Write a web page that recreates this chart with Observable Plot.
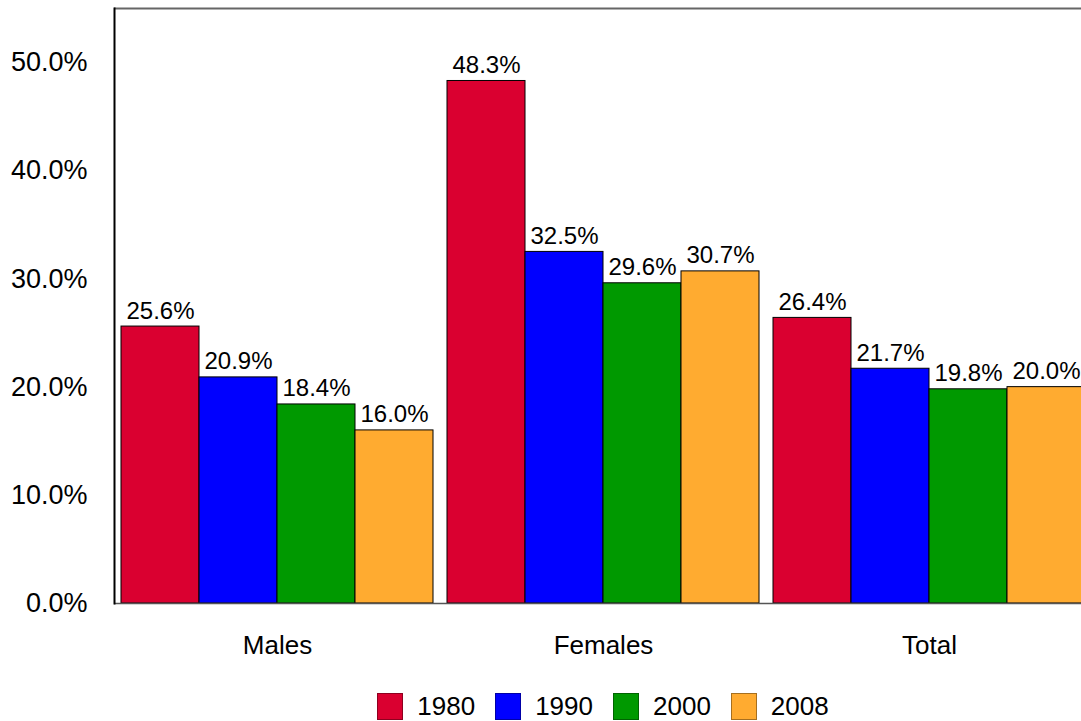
<!DOCTYPE html>
<html>
<head>
<meta charset="utf-8">
<script src="https://cdn.jsdelivr.net/npm/d3@7"></script>
<script src="https://cdn.jsdelivr.net/npm/@observablehq/plot@0.6"></script>
<style>
html, body { margin: 0; padding: 0; overflow: hidden; background: #fff; }
#wrap { position: relative; width: 1081px; height: 721px; overflow: hidden; font-family: "Liberation Sans", Arial, sans-serif; color: #000; }
#chart { position: absolute; left: 0; top: 0; width: 1092px; }
#chart svg { max-width: none !important; width: 1092px !important; height: 690px !important; }
#legend { position: absolute; top: 693px; left: 0; width: 1206px; display: flex; justify-content: center; align-items: center; }
.item { display: flex; align-items: center; margin: 0 10px; }
.sw { width: 26px; height: 27px; box-sizing: border-box; border: 1px solid #000; margin-right: 14px; }
.lab { font-size: 26px; line-height: 27px; }
</style>
</head>
<body>
<div id="wrap"><div id="chart"></div><div id="legend"></div></div>
<script>
const groups = ["Males", "Females", "Total"];
const years = ["1980", "1990", "2000", "2008"];
const colors = ["#DA0030", "#0000FF", "#009900", "#FFAB30"];
const males = [25.6, 20.9, 18.4, 16.0];
const females = [48.3, 32.5, 29.6, 30.7];
const total = [26.4, 21.7, 19.8, 20.0];
const yTicks = [0, 10, 20, 30, 40, 50];

const series = {Males: males, Females: females, Total: total};
const data = groups.flatMap(g => years.map((y, i) => ({group: g, year: y, value: series[g][i]})));
const fmt = d => d.toFixed(1) + "%";

const chart = Plot.plot({
  width: 1092,
  height: 690,
  marginLeft: 113,
  marginRight: 0,
  marginTop: 8,
  marginBottom: 87,
  style: {fontFamily: '"Liberation Sans", Arial, sans-serif', color: "#000", background: "transparent", overflow: "visible", maxWidth: "none"},
  fx: {domain: groups, paddingInner: 0, paddingOuter: 0, label: null, axis: null},
  x: {domain: years, paddingInner: 0, paddingOuter: 0.07, axis: null},
  y: {domain: [0, 55], axis: null},
  color: {domain: years, range: colors},
  marks: [
    Plot.barY(data, {fx: "group", x: "year", y: "value", fill: "year", stroke: "#000", strokeWidth: 1}),
    Plot.ruleY([0], {stroke: "#555", strokeWidth: 1.5}),
    Plot.ruleY([55], {stroke: "#666", strokeWidth: 2}),
    Plot.frame({anchor: "left", facetAnchor: "left", stroke: "#000", strokeWidth: 2}),
    Plot.axisY({ticks: yTicks, tickFormat: fmt, tickSize: 0, tickPadding: 27, fontSize: 27, label: null}),
    Plot.axisFx({anchor: "bottom", tickSize: 0, tickPadding: 32, fontSize: 26, label: null}),
    Plot.text(data, {fx: "group", x: "year", y: "value", text: d => fmt(d.value), dy: -8, lineAnchor: "bottom", fontSize: 24, fill: "#000"})
  ]
});
document.getElementById("chart").appendChild(chart);

const legend = document.getElementById("legend");
years.forEach((y, i) => {
  const item = document.createElement("div");
  item.className = "item";
  const sw = document.createElement("div");
  sw.className = "sw";
  sw.style.background = chart.scale("color").apply(y);
  sw.style.borderColor = d3.color(colors[i]).darker(1.2).formatHex();
  const lab = document.createElement("span");
  lab.className = "lab";
  lab.textContent = y;
  item.appendChild(sw);
  item.appendChild(lab);
  legend.appendChild(item);
});
</script>
</body>
</html>
